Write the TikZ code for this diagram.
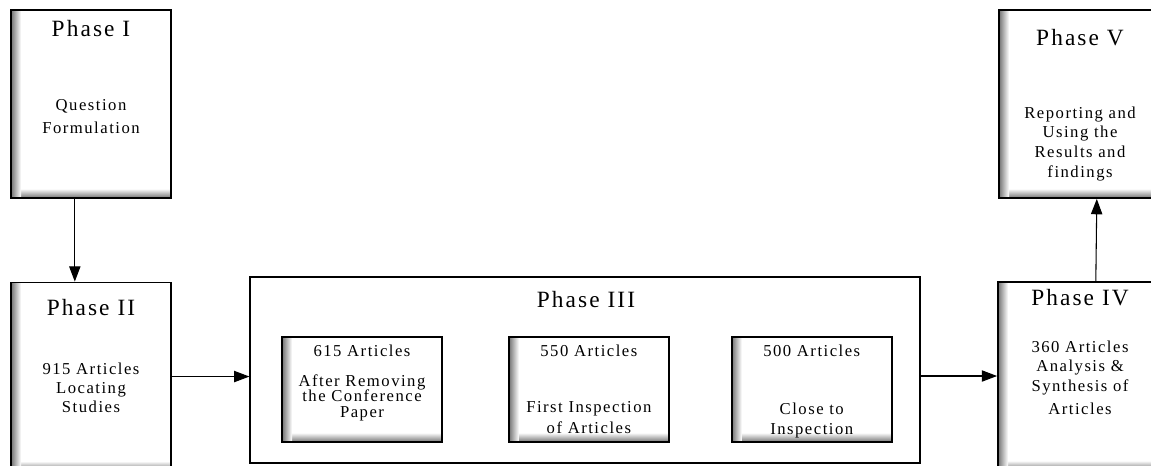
\documentclass[tikz,border=0pt]{standalone}
\usepackage{fontspec}
\setmainfont{Liberation Serif}[LetterSpace=9]
\usepackage{tikz}
\usetikzlibrary{positioning,arrows.meta,calc}
\tikzset{caja/.style={draw,line width=1.4pt,fill=white,minimum width=120pt,minimum height=141pt,
    path picture={
      \fill[white] (path picture bounding box.south west) rectangle (path picture bounding box.north east);
      \shade[top color=white,bottom color=black!55] (path picture bounding box.south west) rectangle ([yshift=7pt]path picture bounding box.south east);
      \shade[left color=black!55,right color=white] (path picture bounding box.south west) rectangle ([xshift=7.5pt]path picture bounding box.north west);}}}
\tikzset{caja3/.style={caja,minimum height=78.75pt}}
\tikzset{marco/.style={draw,line width=0.9pt,minimum width=502.5pt,minimum height=139.5pt}}
\tikzset{flecha/.style={line width=0.8pt,-{Triangle[length=11.5pt,width=8.5pt]}}}
\tikzset{titulo/.style={anchor=base,font=\fontsize{17.5}{20}\selectfont}}
\tikzset{texto/.style={anchor=base,align=center,font=\fontsize{12.5}{14}\selectfont}}

\begin{document}
\begin{tikzpicture}[x=0.75pt,y=-0.75pt,every node/.style={inner sep=0pt}]
            \useasboundingbox (0,0) rectangle (1151,465);
            \clip (0,0) rectangle (1151,465);
            % fases
            \node[caja] (1) at (91,104) {};
            \node[caja,below=62pt of 1] (2) {};
            \node[marco] (3) at (585,370) {};
            \node[caja3] (31) at (362,389.5) {};
            \node[caja3,right=48.75pt of 31] (32) {};
            \node[caja3,right=45.75pt of 32] (33) {};
            \node[caja] (5) at (1079,104) {};
            \node[caja] (4) at (1078,376) {};

            % textos (base = ultima linea)
            \node[titulo] (t1) at (91,36) {Phase I};
            \node[texto] (c1) at (91,133) {Question\\[3.25pt]Formulation};
            \node[titulo] (t2) at (91,315) {Phase II};
            \node[texto] (c2) at (91,412) {915 Articles\\Locating\\Studies};
            \node[titulo] (t3) at (586,307) {Phase III};
            \node[texto] (n31) at (31 |- 0,356) {615 Articles};
            \node[texto,font=\fontsize{12.5}{11.5}\selectfont] (c31) at (31 |- 0,417) {After Removing\\the Conference\\Paper};
            \node[texto] (n32) at (32 |- 0,356) {550 Articles};
            \node[texto] (c32) at (32 |- 0,433) {First Inspection\\[1.75pt]of Articles};
            \node[texto] (n33) at (33 |- 0,356) {500 Articles};
            \node[texto] (c33) at (33 |- 0,434) {Close to\\[1pt]Inspection};
            \node[titulo] (t4) at (1080,305) {Phase IV};
            \node[texto] (c4) at (1080,414) {360 Articles\\Analysis \&\\[1pt]Synthesis of\\[3pt]Articles};
            \node[titulo] (t5) at (1080,45) {Phase V};
            \node[texto,font=\fontsize{12.5}{14.75}\selectfont] (c5) at (1080,177) {Reporting and\\Using the\\Results and\\findings};

            \draw[flecha] ($(1.south west)!0.4!(1.south east)$) -- ($(2.north west)!0.4!(2.north east)$);
            \draw[flecha] (2.east) -- (2.east -| 3.west);
            \draw[flecha] (3.east |- 4.west) -- (4.west);
            \draw[flecha] ($(4.north west)!0.61!(4.north east)$) -- ($(5.south west)!0.61!(5.south east)$);
        \end{tikzpicture}
\end{document}
